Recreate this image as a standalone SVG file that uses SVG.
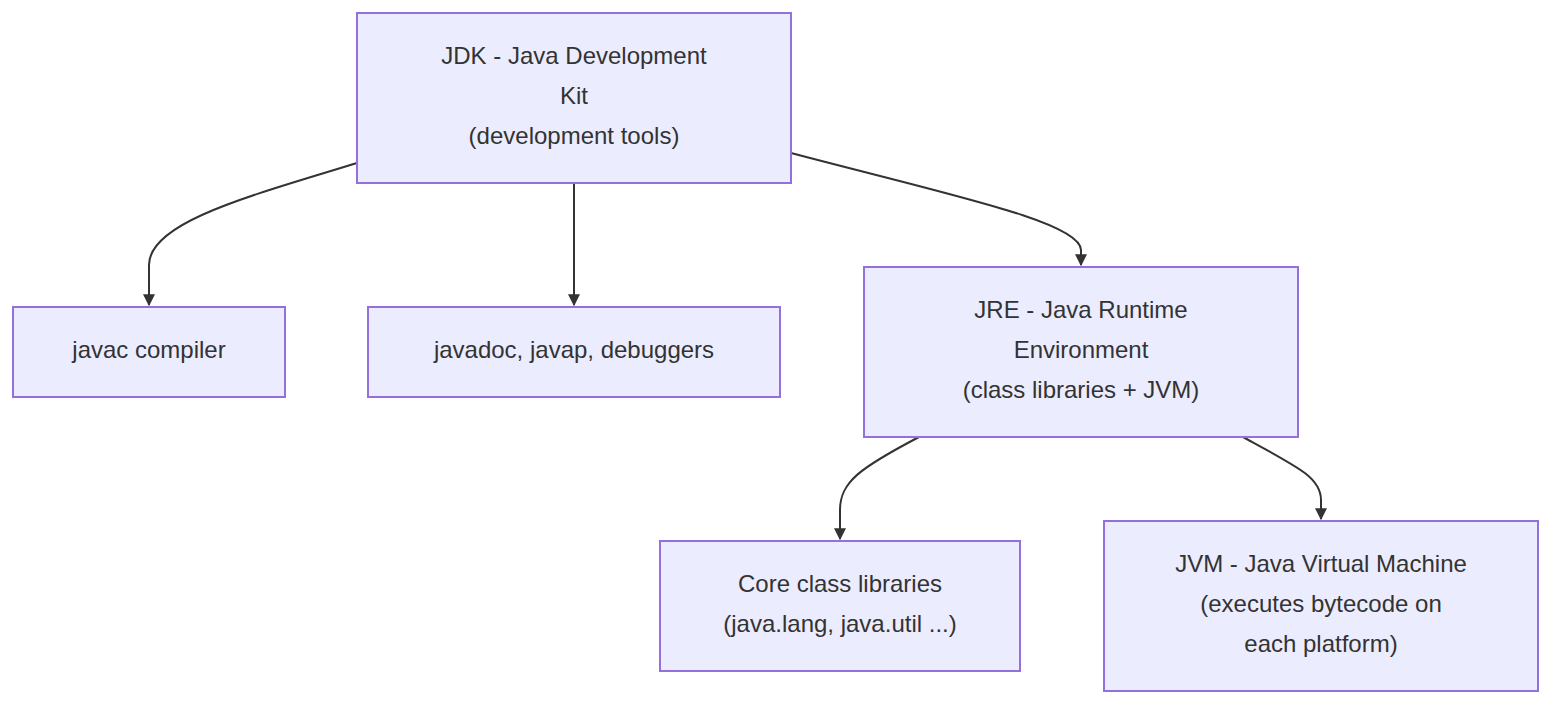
<svg xmlns="http://www.w3.org/2000/svg" width="1568" height="714" viewBox="0 0 1568 714">
<style>
.n rect{fill:#ECECFF;stroke:#9370DB;stroke-width:2}
.n text{font-family:"Liberation Sans",Arial,sans-serif;font-size:24px;fill:#333;text-anchor:middle}
.e path{fill:none;stroke:#333;stroke-width:2;marker-end:url(#a)}
</style>
<defs><marker id="a" viewBox="0 0 10 10" refX="9" refY="5" markerWidth="6" markerHeight="6" orient="auto" markerUnits="strokeWidth"><path d="M0,0L10,5L0,10z" fill="#333"/></marker></defs>
<rect width="1568" height="714" fill="#fff"/>
<g class="e">
<path d="M357,163 C250,196 149,222 149,265 L149,305"/>
<path d="M574,183 L574,305"/>
<path d="M791,153 C950,195 1081,222 1081,250 L1081,265"/>
<path d="M919,437 C860,468 840,482 840,510 L840,539"/>
<path d="M1243,437 C1300,468 1321,478 1321,500 L1321,519"/>
</g>
<g id="jdk" class="n"><rect x="357" y="13" width="434" height="170"/><text x="574" y="64">JDK - Java Development</text><text x="574" y="104">Kit</text><text x="574" y="144">(development tools)</text></g>
<g id="javac" class="n"><rect x="13" y="307" width="272" height="90"/><text x="149" y="358">javac compiler</text></g>
<g id="tools" class="n"><rect x="368" y="307" width="412" height="90"/><text x="574" y="358">javadoc, javap, debuggers</text></g>
<g id="jre" class="n"><rect x="864" y="267" width="434" height="170"/><text x="1081" y="318">JRE - Java Runtime</text><text x="1081" y="358">Environment</text><text x="1081" y="398">(class libraries + JVM)</text></g>
<g id="core" class="n"><rect x="660" y="541" width="360" height="130"/><text x="840" y="592">Core class libraries</text><text x="840" y="632">(java.lang, java.util ...)</text></g>
<g id="jvm" class="n"><rect x="1104" y="521" width="434" height="170"/><text x="1321" y="572">JVM - Java Virtual Machine</text><text x="1321" y="612">(executes bytecode on</text><text x="1321" y="652">each platform)</text></g>
</svg>
